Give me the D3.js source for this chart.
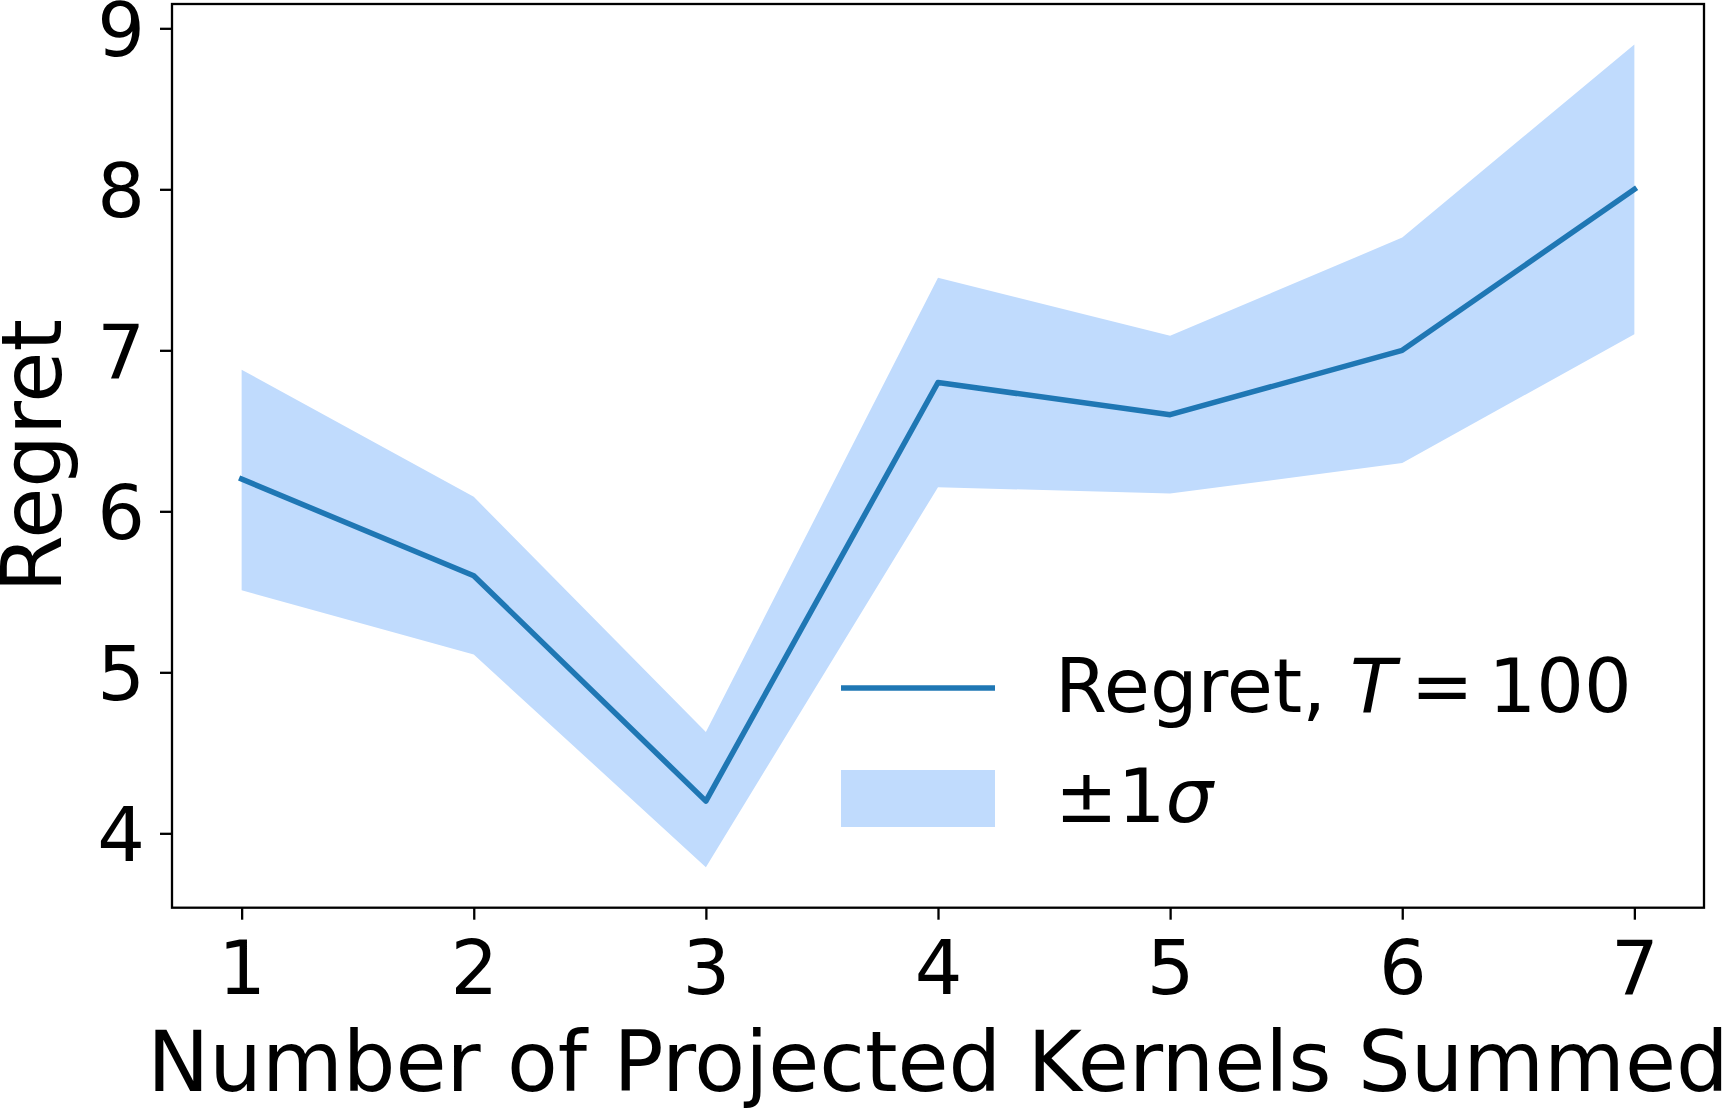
<!DOCTYPE html>
<html>
<head>
<meta charset="utf-8">
<script src="https://cdn.jsdelivr.net/npm/d3@7"></script>
<style>
  html, body { margin: 0; padding: 0; background: #fff; }
  svg { display: block; font-family: "DejaVu Sans", sans-serif; }
</style>
</head>
<body>
<svg id="chart" width="1724" height="1108"></svg>
<script>
// kernels summed on x, regret mean and the +-1 sigma band
const kernels = [1, 2, 3, 4, 5, 6, 7];
const regretMean = [6.2, 5.6, 4.2, 6.8, 6.6, 7.0, 8.0];
const regretUpper = [6.88, 6.09, 4.63, 7.45, 7.09, 7.70, 8.90];
const regretLower = [5.51, 5.11, 3.79, 6.15, 6.11, 6.30, 7.10];
const xTicks = [1, 2, 3, 4, 5, 6, 7];
const yTicks = [4, 5, 6, 7, 8, 9];

const lineColor = "#1f77b4";
const bandColor = "#c0dbfd";

const svg = d3.select("#chart");
const plotLeft = 172, plotRight = 1704, plotTop = 4, plotBottom = 907.7;

const x = d3.scaleLinear().domain([0.7, 7.3]).range([plotLeft, plotRight]);
const y = d3.scaleLinear().domain([3.538, 9.151]).range([plotBottom, plotTop]);

const rows = kernels.map((k, i) => ({ k: k, m: regretMean[i], lo: regretLower[i], hi: regretUpper[i] }));

// band
const area = d3.area()
	.x(d => x(d.k))
	.y0(d => y(d.lo))
	.y1(d => y(d.hi));
svg.append("path")
	.datum(rows)
	.attr("d", area)
	.attr("fill", bandColor);

// mean line
const line = d3.line()
	.x(d => x(d.k))
	.y(d => y(d.m));
svg.append("path")
	.datum(rows)
	.attr("d", line)
	.attr("fill", "none")
	.attr("stroke", lineColor)
	.attr("stroke-width", 5.5)
	.attr("stroke-linejoin", "round")
	.attr("stroke-linecap", "square");

// axes
const xAxis = svg.append("g")
	.attr("transform", `translate(0,${plotBottom})`)
	.call(d3.axisBottom(x).tickValues(xTicks).tickFormat(d3.format("d")).tickSize(12).tickPadding(21));
const yAxis = svg.append("g")
	.attr("transform", `translate(${plotLeft},0)`)
	.call(d3.axisLeft(y).tickValues(yTicks).tickFormat(d3.format("d")).tickSize(12).tickPadding(15));

[xAxis, yAxis].forEach(g => {
	g.select(".domain").remove();
	g.selectAll(".tick line").attr("stroke", "#000").attr("stroke-width", 2.3);
	g.selectAll(".tick text")
		.attr("fill", "#000")
		.style("font-size", "75px")
		.style("font-family", "DejaVu Sans");
});
yAxis.selectAll(".tick text").attr("dy", "0.36em");

// frame
svg.append("rect")
	.attr("x", plotLeft)
	.attr("y", plotTop)
	.attr("width", plotRight - plotLeft)
	.attr("height", plotBottom - plotTop)
	.attr("fill", "none")
	.attr("stroke", "#000")
	.attr("stroke-width", 2.3);

// axis labels
svg.append("text")
	.attr("x", (plotLeft + plotRight) / 2)
	.attr("y", 1091)
	.attr("text-anchor", "middle")
	.style("font-size", "83px")
	.text("Number of Projected Kernels Summed");

svg.append("text")
	.attr("transform", `translate(61,${(plotTop + plotBottom) / 2}) rotate(-90)`)
	.attr("text-anchor", "middle")
	.style("font-size", "83px")
	.text("Regret");

// legend
const legend = svg.append("g");
legend.append("line")
	.attr("x1", 841).attr("x2", 995)
	.attr("y1", 688).attr("y2", 688)
	.attr("stroke", lineColor)
	.attr("stroke-width", 5.5);
legend.append("rect")
	.attr("x", 841).attr("y", 770)
	.attr("width", 154).attr("height", 57)
	.attr("fill", bandColor);

const t1 = legend.append("text")
	.attr("x", 1055).attr("y", 712)
	.style("font-size", "75px");
t1.append("tspan").text("Regret, ");
t1.append("tspan").style("font-style", "italic").text("T");
t1.append("tspan").text("\u2009=\u2009100");

const t2 = legend.append("text")
	.attr("x", 1055).attr("y", 822)
	.style("font-size", "75px");
t2.append("tspan").text("\u00b11");
t2.append("tspan").style("font-style", "italic").text("\u03c3");
</script>
</body>
</html>
